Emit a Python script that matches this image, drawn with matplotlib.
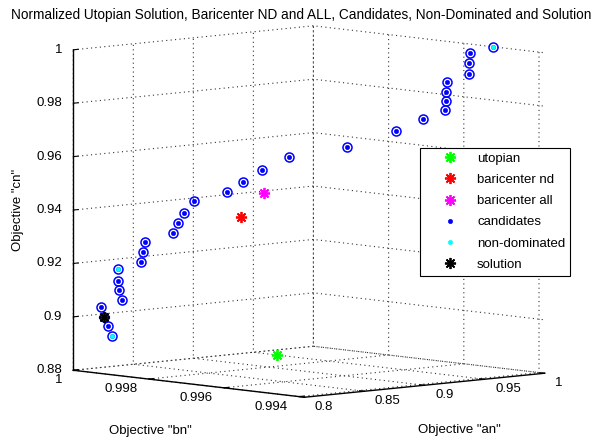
import matplotlib
matplotlib.use('Agg')
import matplotlib.pyplot as plt
from matplotlib.ticker import FuncFormatter

plt.rcParams['font.family'] = ['Liberation Sans', 'DejaVu Sans']
plt.rcParams['font.size'] = 9.5

# candidates, normalized objectives
an = [1.0, 0.989, 0.9885, 0.9885, 0.978, 0.9776, 0.9776, 0.9771, 0.9666, 0.9537,
      0.9303, 0.9026, 0.8902, 0.8807, 0.8735, 0.8573, 0.853, 0.8496, 0.8473, 0.8344,
      0.8334, 0.8325, 0.8215, 0.8215, 0.822, 0.8234, 0.8134, 0.8148, 0.8167, 0.8186]
bn = [0.99523, 0.99549, 0.9955, 0.9955, 0.99575, 0.99576, 0.99576, 0.99577, 0.99602, 0.99633,
      0.99689, 0.99755, 0.99785, 0.99807, 0.99825, 0.99863, 0.99874, 0.99881, 0.99887, 0.99918,
      0.9992, 0.99923, 0.99949, 0.99949, 0.99948, 0.99944, 0.99968, 0.99965, 0.9996, 0.99956]
cn = [1.0, 0.9977, 0.994, 0.9899, 0.9869, 0.9832, 0.9798, 0.9764, 0.9731, 0.9687,
      0.9628, 0.9592, 0.9544, 0.95, 0.9463, 0.943, 0.9386, 0.9348, 0.9311, 0.9278,
      0.924, 0.9203, 0.9177, 0.9132, 0.9099, 0.9061, 0.9035, 0.8998, 0.8964, 0.8926]

# non-dominated ones
nd_an = [1.0, 0.8215, 0.8186]
nd_bn = [0.99523, 0.99949, 0.99956]
nd_cn = [1.0, 0.9177, 0.8926]

utopian = [0.819, 0.9952, 0.8926]
bari_nd = [0.8800, 0.99809, 0.9369]
bari_all = [0.8911, 0.99783, 0.9460]
solution = [0.8148, 0.99965, 0.8998]

an_ticks = [0.8, 0.85, 0.9, 0.95, 1.0]
bn_ticks = [0.994, 0.996, 0.998, 1.0]
cn_ticks = [0.88, 0.9, 0.92, 0.94, 0.96, 0.98, 1.0]

fig = plt.figure(figsize=(6.03, 4.44), dpi=100)
ax = fig.add_axes([0.1343, 0.0101, 0.7363, 1.0], projection='3d', computed_zorder=False)
ax.set_proj_type('ortho')
ax.view_init(elev=6.2, azim=-132.8)
ax.set_box_aspect((1, 1.04, 0.985), zoom=1.25)

star = (8, 2, 0)
h1, = ax.plot([utopian[0]], [utopian[1]], [utopian[2]], ls='none', marker=star, ms=8,
              mec='#00ff00', mew=1.3, label='utopian')
h2, = ax.plot([bari_nd[0]], [bari_nd[1]], [bari_nd[2]], ls='none', marker=star, ms=8,
              mec='#ff0000', mew=1.3, label='baricenter nd')
h3, = ax.plot([bari_all[0]], [bari_all[1]], [bari_all[2]], ls='none', marker=star, ms=8,
              mec='#ff00ff', mew=1.3, label='baricenter all')
ax.plot(an, bn, cn, ls='none', marker='o', ms=6.5, mfc='none', mec='#0000ff', mew=1.1)
h4, = ax.plot(an, bn, cn, ls='none', marker='o', ms=3, mfc='#0000ff', mec='#0000ff',
              mew=0.5, label='candidates')
h5, = ax.plot(nd_an, nd_bn, nd_cn, ls='none', marker='o', ms=3, mfc='#00ffff', mec='#00ffff',
              mew=0.5, label='non-dominated')
h6, = ax.plot([solution[0]], [solution[1]], [solution[2]], ls='none', marker=star, ms=8,
              mec='black', mew=1.3, label='solution')

ax.set_xlim(0.8, 1.0)
ax.set_ylim(0.99385, 1.0)
ax.set_zlim(0.88, 1.0)
ax.set_xticks(an_ticks)
ax.set_yticks(bn_ticks)
ax.set_zticks(cn_ticks)
fmt = FuncFormatter(lambda v, p: '%g' % v)
for axis in (ax.xaxis, ax.yaxis, ax.zaxis):
    axis.set_major_formatter(fmt)
    axis.label.set_visible(False)
    axis.set_pane_color((1, 1, 1, 0))
    axis._axinfo['grid'].update(color='#333333', linewidth=0.8, linestyle=(0, (1, 3)))
    axis._axinfo['tick'].update(inward_factor=0.0, outward_factor=0.25)
    axis.line.set_linewidth(1.0)
    axis.line.set_color('black')
ax.tick_params(labelsize=9.5, colors='black')

# MATLAB-like tick label placement
ax.xaxis.set_tick_params(pad=-0.5)
ax.yaxis.set_tick_params(pad=-0.3)
ax.zaxis.set_tick_params(pad=-4.1)
for t in ax.xaxis.get_major_ticks():
    t.label1.set_ha('left')
    t.label1.set_va('bottom')
for t in ax.yaxis.get_major_ticks():
    t.label1.set_ha('right')
    t.label1.set_va('bottom')
for t in ax.zaxis.get_major_ticks():
    t.label1.set_ha('right')
    t.label1.set_va('center')

fig.text(301 / 603, 1 - 15 / 444,
         'Normalized Utopian Solution, Baricenter ND and ALL, Candidates, Non-Dominated and Solution',
         ha='center', va='center', fontsize=9.8)
fig.text(459 / 603, 1 - 430 / 444, 'Objective "an"', ha='center', va='center')
fig.text(150 / 603, 1 - 431 / 444, 'Objective "bn"', ha='center', va='center')
fig.text(18 / 603, 1 - 210 / 444, 'Objective "cn"', ha='center', va='center', rotation=90)

leg = ax.legend([h1, h2, h3, h4, h5, h6], [h.get_label() for h in (h1, h2, h3, h4, h5, h6)],
                loc='upper left', bbox_to_anchor=(420 / 603, 1 - 148 / 444),
                bbox_transform=fig.transFigure, fancybox=False, edgecolor='black',
                framealpha=1, borderpad=0.35, labelspacing=0.68, handlelength=3.85,
                handletextpad=0.12, borderaxespad=0, fontsize=9.5)
leg.get_frame().set_linewidth(0.8)

fig.savefig('out.png', dpi=100)
